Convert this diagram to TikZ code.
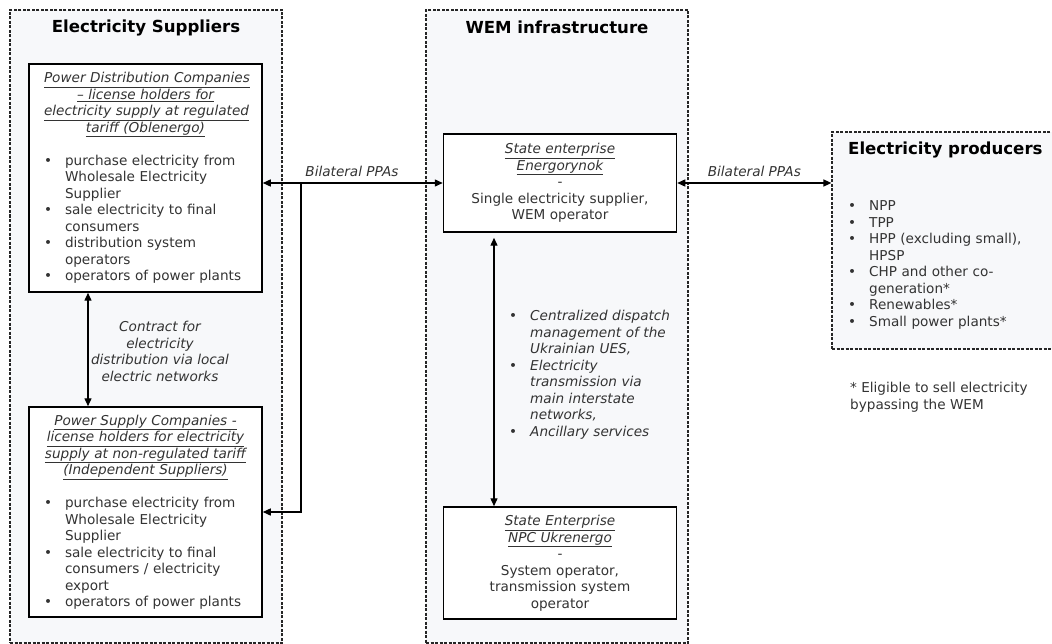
\documentclass[tikz,border=0pt]{standalone}
\usepackage{fontspec}
\setmainfont{DejaVu Sans}
\usepackage{enumitem}
\usetikzlibrary{arrows.meta}
\setlist[itemize]{label=\textbullet, leftmargin=21pt, labelsep=0pt, labelwidth=21pt, align=left, itemsep=0pt, topsep=0pt, parsep=0pt, partopsep=0pt}
\newcommand{\undl}[1]{\underline{#1}}
\definecolor{panelfill}{RGB}{247,248,250}
\begin{document}
\begin{tikzpicture}[x=1pt, y=-1pt,
		txt/.style={font=\fontsize{13.6pt}{16.5pt}\selectfont, text=black!80},
		panel/.style={rectangle, draw=black!85, fill=panelfill, line width=1.2pt, dash pattern=on 3pt off 1.5pt},
		paneltitle/.style={font=\fontsize{16.6pt}{20pt}\selectfont\bfseries, text=black},
		inbox/.style={rectangle, draw=black, fill=white, line width=1.5pt, txt, inner xsep=15pt, inner ysep=0pt, minimum width=233pt, text width=203pt},
		conn/.style={line width=1.4pt, -{Triangle[length=8pt,width=7pt]}},
		biconn/.style={line width=1.4pt, {Triangle[length=8pt,width=7pt]}-{Triangle[length=8pt,width=7pt]}}]
	\useasboundingbox (0,0) rectangle (1052,644);

	\node[panel, minimum width=272pt, minimum height=633pt](suppliersBox) at (146,326.5){};
	\node[panel, minimum width=262pt, minimum height=633pt](wemBox) at (557,326.5){};
	\node[panel, minimum width=230pt, minimum height=217pt](producersBox) at (947,240.5){};

	\node[paneltitle](suppliersTitle) at (146,28){Electricity Suppliers};
	\node[paneltitle](wemTitle) at (557,27){WEM infrastructure};
	\node[paneltitle, anchor=west, inner sep=0pt](producersTitle) at (848,150){Electricity producers};

	\node[inbox, minimum height=228pt](pdc) at (145.5,178){\centering\itshape
		\undl{Power Distribution Companies}\\
		\undl{-- license holders for}\\
		\undl{electricity supply at regulated}\\
		\undl{tariff (Oblenergo)}\par
		\vspace{16.5pt}\upshape\raggedright
		\begin{itemize}
			\item purchase electricity from\\ Wholesale Electricity\\ Supplier
			\item sale electricity to final\\ consumers
			\item distribution system\\ operators
			\item operators of power plants
		\end{itemize}};
	\node[inbox, minimum height=210pt](psc) at (145.5,512){\centering\itshape
		\undl{Power Supply Companies -}\\
		\undl{license holders for electricity}\\
		\undl{supply at non-regulated tariff}\\
		\undl{(Independent Suppliers)}\par
		\vspace{16.5pt}\upshape\raggedright
		\begin{itemize}
			\item purchase electricity from\\ Wholesale Electricity\\ Supplier
			\item sale electricity to final\\ consumers / electricity\\ export
			\item operators of power plants
		\end{itemize}};

	\node[inbox, minimum width=228pt, minimum height=98pt](energ) at (560,183){\centering
		{\itshape\undl{State enterprise}\\ \undl{Energorynok}}\\
		-\\
		Single electricity supplier,\\
		WEM operator\par};
	\node[inbox, minimum width=228pt, minimum height=112pt](ukr) at (560,563){\centering
		{\itshape\undl{State Enterprise}\\ \undl{NPC Ukrenergo}}\\
		-\\
		System operator,\\
		transmission system\\
		operator\par};

	\node[txt, anchor=north west, inner sep=0pt, text width=170pt](dispatchList) at (509,304){\itshape
		\begin{itemize}
			\item Centralized dispatch\\ management of the\\ Ukrainian UES,
			\item Electricity\\ transmission via\\ main interstate\\ networks,
			\item Ancillary services
		\end{itemize}};
	\node[txt, anchor=north west, inner sep=0pt, text width=200pt](producersList) at (848,194){
		\begin{itemize}
			\item NPP
			\item TPP
			\item HPP (excluding small),\\ HPSP
			\item CHP and other co-\\ generation*
			\item Renewables*
			\item Small power plants*
		\end{itemize}};
	\node[txt, anchor=north west, inner sep=0pt, align=left](footnote) at (850,382){* Eligible to sell electricity\\ bypassing the WEM};

	\node[txt, font=\fontsize{13.6pt}{16.5pt}\selectfont\itshape, align=center](contractLabel) at (160,351.5){Contract for\\ electricity\\ distribution via local\\ electric networks};

	\coordinate (junction) at (301,183);
	\draw[conn] (junction) -- (pdc.east |- junction);
	\draw[conn] (junction) -- (energ.west);
	\draw[conn] (junction) |- (psc.east);
	\node[txt, font=\fontsize{13.6pt}{16.5pt}\selectfont\itshape](ppaLeft) at (352,171){Bilateral PPAs};
	\draw[biconn] (energ.east) -- (producersBox.west |- energ.east) node[txt, font=\fontsize{13.6pt}{16.5pt}\selectfont\itshape, midway, above=2pt](ppaRight){Bilateral PPAs};

	\draw[biconn] ([xshift=-57.5pt]pdc.south) -- ([xshift=-57.5pt]psc.north);
	\draw[biconn, shorten <=5pt] ([xshift=-66pt]energ.south) -- ([xshift=-66pt]ukr.north);
\end{tikzpicture}
\end{document}
